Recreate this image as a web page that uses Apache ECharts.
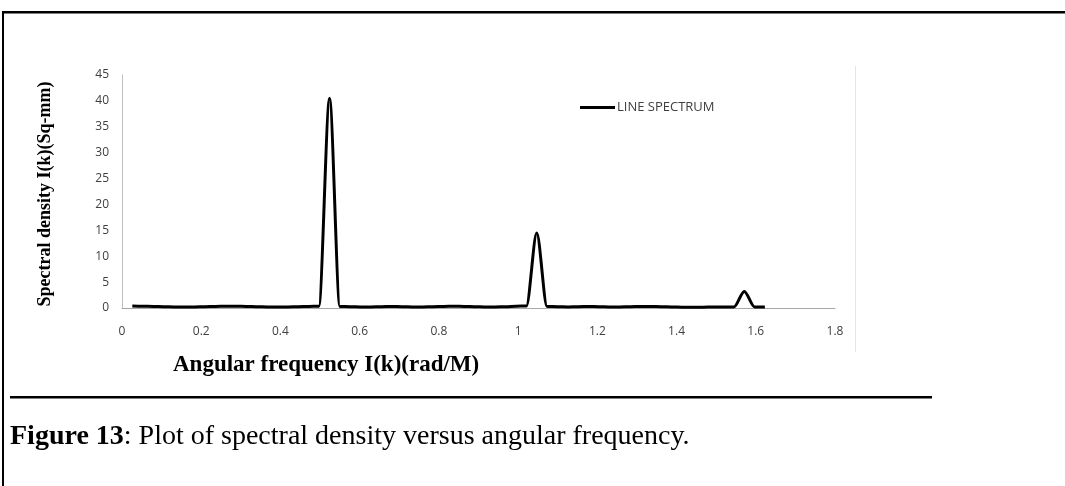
<!DOCTYPE html>
<html lang="en">
<head>
    <meta charset="UTF-8">
    <title>Spectral density</title>
    <script src="https://cdn.jsdelivr.net/npm/echarts@6/dist/echarts.min.js"></script>
    <style>
        body { margin: 0; background: #fff; }
    </style>
</head>
<body>
    <div id="main" style="width: 1065px;height:486px;"></div>
<script type="text/javascript">

    // angular frequency (rad/M)
    var freq = [0.026, 0.052, 0.079, 0.105, 0.131, 0.157, 0.183, 0.209, 0.236, 0.262,
        0.288, 0.314, 0.340, 0.367, 0.393, 0.419, 0.445, 0.471, 0.497, 0.524,
        0.550, 0.576, 0.602, 0.628, 0.654, 0.681, 0.707, 0.733, 0.759, 0.785,
        0.812, 0.838, 0.864, 0.890, 0.916, 0.942, 0.969, 0.995, 1.021, 1.047,
        1.073, 1.100, 1.126, 1.152, 1.178, 1.204, 1.230, 1.257, 1.283, 1.309,
        1.335, 1.361, 1.388, 1.414, 1.440, 1.466, 1.492, 1.518, 1.545, 1.571,
        1.597, 1.623];
    // spectral density (Sq-mm)
    var density = [0.4, 0.35, 0.3, 0.25, 0.2, 0.2, 0.2, 0.25, 0.3, 0.35,
        0.35, 0.3, 0.25, 0.2, 0.2, 0.2, 0.25, 0.3, 0.35, 40.5,
        0.3, 0.25, 0.2, 0.2, 0.25, 0.3, 0.25, 0.2, 0.2, 0.25,
        0.3, 0.35, 0.3, 0.25, 0.2, 0.2, 0.25, 0.35, 0.4, 14.5,
        0.3, 0.25, 0.2, 0.25, 0.3, 0.25, 0.2, 0.2, 0.25, 0.3,
        0.3, 0.25, 0.2, 0.15, 0.15, 0.15, 0.2, 0.2, 0.2, 3.2,
        0.2, 0.2];
    var xTicks = [0, 1.8, 0.2];
    var yTicks = [0, 45, 5];

    var points = [];
    for (var i = 0; i < freq.length; i++) {
        points.push([freq[i], density[i]]);
    }

    var myChart = echarts.init(document.getElementById('main'));
    var labelFont = { color: '#404040', fontSize: 12, fontFamily: 'Open Sans' };

    var option = {
        backgroundColor: '#fff',
        animation: false,
        grid: { left: 122, top: 75, width: 713, height: 233 },
        legend: {
            left: 580, top: 101, padding: 0,
            icon: 'rect', itemWidth: 35, itemHeight: 3,
            textStyle: { color: '#404040', fontSize: 13, fontFamily: 'Open Sans', padding: [0, 0, 0, -3] },
            data: ['LINE SPECTRUM']
        },
        xAxis: {
            type: 'value',
            min: xTicks[0], max: xTicks[1], interval: xTicks[2],
            splitLine: { show: false },
            axisTick: { show: false },
            axisLine: { lineStyle: { color: '#a6a6a6', width: 1 } },
            axisLabel: Object.assign({ margin: 18 }, labelFont)
        },
        yAxis: {
            type: 'value',
            min: yTicks[0], max: yTicks[1], interval: yTicks[2],
            splitLine: { show: false },
            axisTick: { show: false },
            axisLine: { show: true, lineStyle: { color: '#bfbfbf', width: 1 } },
            axisLabel: Object.assign({ margin: 13 }, labelFont)
        },
        series: [{
            name: 'LINE SPECTRUM',
            type: 'line',
            data: points,
            showSymbol: false,
            smooth: 0.3,
            smoothMonotone: 'x',
            color: '#000',
            lineStyle: { color: '#000', width: 3, join: 'round' }
        }],
        graphic: [
            // frame of the figure box
            { type: 'rect', shape: { x: 2, y: 11, width: 1063, height: 2.5 }, style: { fill: '#000' } },
            { type: 'rect', shape: { x: 2, y: 11, width: 2, height: 475 }, style: { fill: '#000' } },
            // faint chart area edge
            { type: 'line', shape: { x1: 855.5, y1: 66, x2: 855.5, y2: 352 }, style: { stroke: '#e6e6e6', lineWidth: 1 } },
            // rule above caption
            { type: 'rect', shape: { x: 10, y: 396, width: 922, height: 2.5 }, style: { fill: '#000' } },
            {
                type: 'text', x: 173, y: 365,
                style: {
                    text: 'Angular frequency I(k)(rad/M)',
                    font: 'bold 23px "Liberation Serif"', fill: '#000',
                    textVerticalAlign: 'middle'
                }
            },
            {
                type: 'text', x: 45, y: 194, rotation: Math.PI / 2,
                style: {
                    text: 'Spectral density I(k)(Sq-mm)',
                    font: 'bold 18px "Liberation Serif"', fill: '#000',
                    textAlign: 'center', textVerticalAlign: 'middle'
                }
            },
            {
                type: 'text', x: 10, y: 437,
                style: {
                    text: '{b|Figure 13}: Plot of spectral density versus angular frequency.',
                    font: '28px "Liberation Serif"', fill: '#000',
                    textVerticalAlign: 'middle',
                    rich: { b: { fontWeight: 'bold', fontSize: 28, fontFamily: 'Liberation Serif' } }
                }
            }
        ]
    };

    myChart.setOption(option);
</script>
</body>
</html>
